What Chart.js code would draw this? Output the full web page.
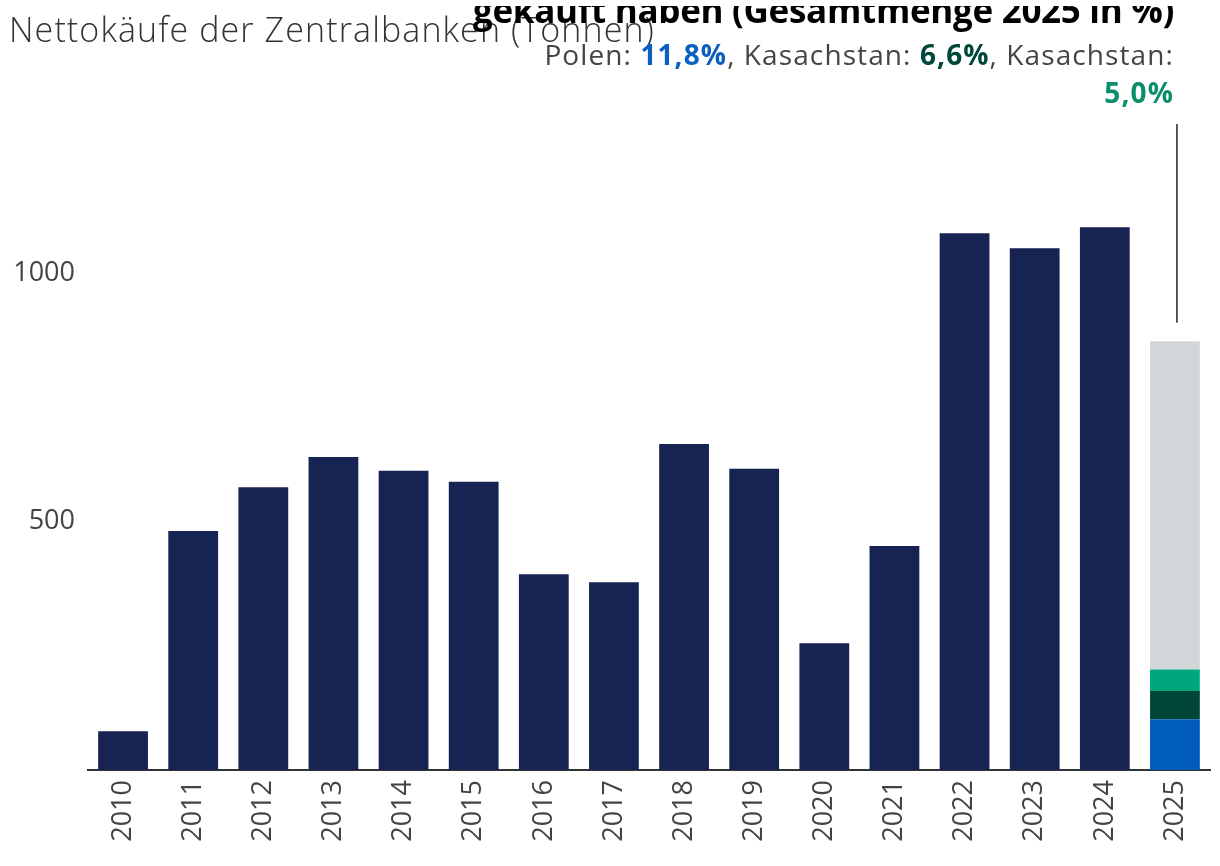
<!DOCTYPE html>
<html lang="de">
<head>
<meta charset="UTF-8">
<title>Nettokäufe der Zentralbanken</title>
<style>
  html, body { margin: 0; padding: 0; background: #fff; overflow: hidden; }
  body { width: 1220px; height: 866px; position: relative; font-family: "Open Sans", Lato, sans-serif; }
  #chart-box { position: absolute; left: 0; top: 0; width: 1220px; height: 866px; }
  .title { position: absolute; left: 9px; top: 6px; font-size: 34px; letter-spacing: 1.1px; font-weight: 300; color: #333; white-space: nowrap; }
  .head-clip { position: absolute; right: 46px; top: 6px; width: 760px; height: 40px; overflow: hidden; }
  .head { position: absolute; right: 0; top: -20px; font-size: 35px; letter-spacing: -0.3px; font-weight: 700; color: #000; white-space: nowrap; }
  .sub { position: absolute; right: 46px; top: 35px; font-size: 28px; letter-spacing: 1.1px; font-weight: 400; color: #444; text-align: right; line-height: 38px; white-space: nowrap; }
  .sub b { font-weight: 700; }
  .pl { color: #0a5fbf; }
  .kz { color: #00473a; }
  .k2 { color: #0a8f6a; }
</style>
</head>
<body>
<div id="chart-box"><canvas id="myChart" width="1220" height="866"></canvas></div>
<div class="title">Nettokäufe der Zentralbanken (Tonnen)</div>
<div class="head-clip"><div class="head">gekauft haben (Gesamtmenge 2025 in %)</div></div>
<div class="sub">Polen: <b class="pl">11,8%</b>, Kasachstan: <b class="kz">6,6%</b>, Kasachstan:<br><b class="k2">5,0%</b></div>

<script src="https://cdn.jsdelivr.net/npm/chart.js@4/dist/chart.umd.min.js"></script>
<script>
  // years and net purchases (tonnes)
  var years = ["2010", "2011", "2012", "2013", "2014", "2015", "2016", "2017",
               "2018", "2019", "2020", "2021", "2022", "2023", "2024", "2025"];
  var netBuys = [78, 481, 569, 630, 602, 580, 394, 378, 656, 606, 255, 451, 1080, 1050, 1092, null];

  // 2025 split: Polen, Kasachstan, Kasachstan, rest
  var polen2025 = [null, null, null, null, null, null, null, null, null, null, null, null, null, null, null, 102];
  var kasach2025 = [null, null, null, null, null, null, null, null, null, null, null, null, null, null, null, 57];
  var kasachB2025 = [null, null, null, null, null, null, null, null, null, null, null, null, null, null, null, 43];
  var rest2025 = [null, null, null, null, null, null, null, null, null, null, null, null, null, null, null, 661];

  var yTicks = [500, 1000];
  var yMax = 1300;
  var markerFrom = 900; // where the pointer line above 2025 starts

  var tickFont = { family: "'Open Sans', Lato, sans-serif", size: 27 };

  // thin vertical pointer from the 2025 bar up to the text
  var pointerLine = {
    id: "pointerLine",
    afterDatasetsDraw: function (chart) {
      var x = chart.scales.x.getPixelForValue(years.length - 1);
      var y0 = chart.scales.y.getPixelForValue(markerFrom);
      var y1 = chart.scales.y.getPixelForValue(yMax);
      var ctx = chart.ctx;
      ctx.save();
      ctx.strokeStyle = "#222";
      ctx.lineWidth = 1.5;
      ctx.beginPath();
      ctx.moveTo(x + 2, y0);
      ctx.lineTo(x + 2, y1);
      ctx.stroke();
      ctx.restore();
    }
  };

  var ctx = document.getElementById("myChart").getContext("2d");
  var myChart = new Chart(ctx, {
    type: "bar",
    data: {
      labels: years,
      datasets: [
        { label: "Nettokäufe", data: netBuys, backgroundColor: "#172352" },
        { label: "Polen", data: polen2025, backgroundColor: "#005cb9" },
        { label: "Kasachstan", data: kasach2025, backgroundColor: "#00473a" },
        { label: "Kasachstan", data: kasachB2025, backgroundColor: "#00a77e" },
        { label: "Rest", data: rest2025, backgroundColor: "#d1d6d9" }
      ]
    },
    options: {
      responsive: false,
      animation: false,
      devicePixelRatio: 1,
      layout: { padding: { top: 124, right: 10, left: 0, bottom: 0 } },
      datasets: { bar: { barPercentage: 0.71, categoryPercentage: 1.0 } },
      plugins: { legend: { display: false }, tooltip: { enabled: false } },
      scales: {
        x: {
          stacked: true,
          grid: { display: false, drawTicks: false },
          border: { display: true, color: "#333", width: 2 },
          ticks: { color: "#444", font: tickFont, maxRotation: 90, minRotation: 90, padding: 10, autoSkip: false },
          afterFit: function (axis) { axis.height = 96; }
        },
        y: {
          stacked: true,
          min: 0,
          max: yMax,
          grid: { display: false, drawTicks: false },
          border: { display: false },
          ticks: {
            color: "#444", font: tickFont, padding: 13,
            callback: function (v) { return String(v); }
          },
          afterBuildTicks: function (axis) {
            axis.ticks = yTicks.map(function (v) { return { value: v }; });
          },
          afterFit: function (axis) { axis.width = 88; }
        }
      }
    },
    plugins: [pointerLine]
  });
</script>
</body>
</html>
